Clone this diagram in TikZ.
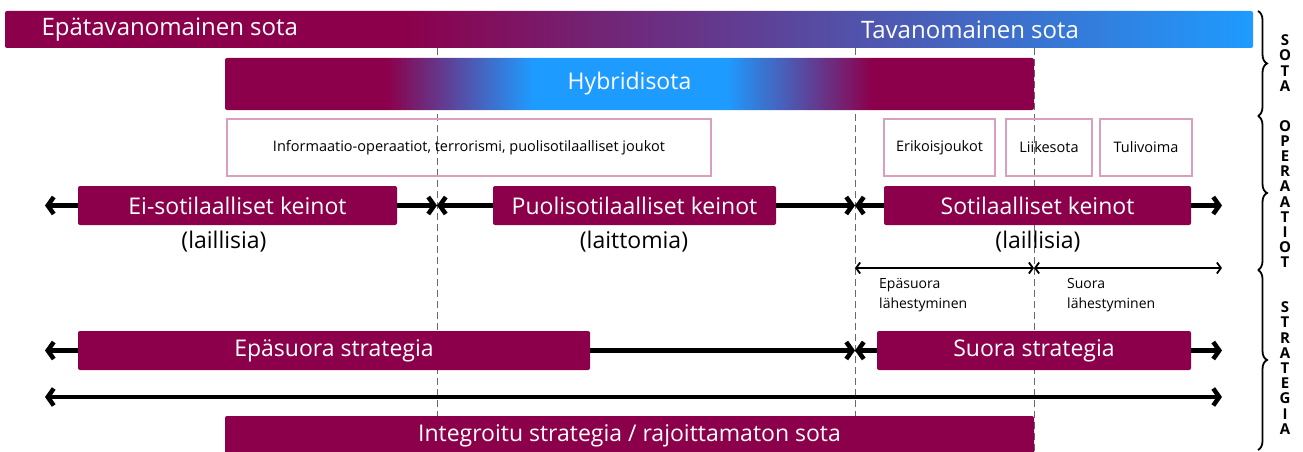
\documentclass[tikz,border=0pt]{standalone}
\usepackage{fontspec}
\setmainfont{Open Sans}
\usetikzlibrary{arrows.meta,decorations.pathreplacing}

\definecolor{crim}{RGB}{140,0,75}
\definecolor{sky}{RGB}{30,155,255}
\definecolor{pinkline}{RGB}{216,160,188}
\definecolor{dashgray}{RGB}{105,105,105}

\pgfdeclarehorizontalshading{sotagrad}{100bp}{color(0bp)=(crim); color(41bp)=(crim); color(75bp)=(sky); color(100bp)=(sky)}
\pgfdeclarehorizontalshading{hybridgrad}{100bp}{color(0bp)=(crim); color(35bp)=(crim); color(44bp)=(sky); color(56bp)=(sky); color(65bp)=(crim); color(100bp)=(crim)}

\tikzset{
	bar/.style={fill=crim, rounded corners=2pt, inner sep=0pt, text=white, font=\fontsize{23}{27}\selectfont},
	pinkbox/.style={draw=pinkline, line width=2pt, inner sep=0pt, font=\fontsize{14.5}{17}\selectfont},
	bigarrow/.style={line width=4.5pt, -{Straight Barb[length=6pt,width=17pt]}},
	thinarrow/.style={line width=1.8pt, {Straight Barb[length=4pt,width=11pt]}-{Straight Barb[length=4pt,width=11pt]}},
	divider/.style={dashgray, line width=1pt, dash pattern=on 7pt off 4pt},
	sidebrace/.style={decorate, decoration={brace,amplitude=9pt}, line width=1.8pt},
	sidelabel/.style={align=center, inner sep=0pt, font=\fontsize{15}{15.2}\selectfont\bfseries}
}

\begin{document}
\begin{tikzpicture}[x=1pt,y=-1pt]
	\useasboundingbox (0,0) rectangle (1303,452);

	\coordinate (v1t) at (437,48);
	\coordinate (v1b) at (437,416);
	\coordinate (v2t) at (855,48);
	\coordinate (v2b) at (855,416);
	\coordinate (v3t) at (1034,48);
	\coordinate (v3b) at (1034,452);
	\draw[divider] (v1t) -- (v1b);
	\draw[divider] (v2t) -- (v2b);
	\draw[divider] (v3t) -- (v3b);

	\node[shade, shading=sotagrad, rounded corners=2pt, minimum width=1248pt, minimum height=37pt] (sota) at (629,29.5) {};
	\node[text=white, font=\fontsize{24}{28}\selectfont, anchor=west] (epatxt) at (38,29.5) {Epätavanomainen sota};
	\node[text=white, font=\fontsize{24}{28}\selectfont] (tavtxt) at (970,29.5) {Tavanomainen sota};

	\node[shade, shading=hybridgrad, rounded corners=2pt, text=white, font=\fontsize{23}{27}\selectfont, minimum width=809pt, minimum height=52pt] (hybrid) at (629.5,84) {Hybridisota};

	\node[pinkbox, minimum width=484pt, minimum height=57pt] (info) at (469,147.5) {Informaatio-operaatiot, terrorismi, puolisotilaalliset joukot};
	\node[pinkbox, minimum width=111pt, minimum height=57pt] (eriko) at (939.5,147.5) {Erikoisjoukot};
	\node[pinkbox, minimum width=86pt, minimum height=57pt] (liike) at (1049,147.5) {Liikesota};
	\node[pinkbox, minimum width=92pt, minimum height=57pt] (tuli) at (1146,147.5) {Tulivoima};

	\node[bar, minimum width=319pt, minimum height=39pt] (eisot) at (237.5,205.5) {Ei-sotilaalliset keinot};
	\node[bar, minimum width=283pt, minimum height=39pt] (puoli) at (634.5,205.5) {Puolisotilaalliset keinot};
	\node[bar, minimum width=307pt, minimum height=39pt] (sot) at (1037.5,205.5) {Sotilaalliset keinot};

	\node[font=\fontsize{23}{27}\selectfont] (laill1) at (224,242) {(laillisia)};
	\node[font=\fontsize{23}{27}\selectfont] (laitt) at (634,242) {(laittomia)};
	\node[font=\fontsize{23}{27}\selectfont] (laill2) at (1038,242) {(laillisia)};

	\coordinate (k0) at (45,205.5);
	\coordinate (k1) at (437,205.5);
	\coordinate (k2) at (855,205.5);
	\coordinate (k3) at (1222,205.5);
	\draw[bigarrow] (eisot.west) -- (k0);
	\draw[bigarrow] (eisot.east) -- (k1);
	\draw[bigarrow] (puoli.west) -- (k1);
	\draw[bigarrow] (puoli.east) -- (k2);
	\draw[bigarrow] (sot.west) -- (k2);
	\draw[bigarrow] (sot.east) -- (k3);

	\coordinate (a1) at (855,268);
	\coordinate (a2) at (1034,268);
	\coordinate (a3) at (1222,268);
	\draw[thinarrow] (a1) -- (a2);
	\draw[thinarrow] (a2) -- (a3);
	\node[anchor=north west, align=left, inner sep=0pt, font=\fontsize{14}{20}\selectfont] (epalah) at (879,278) {Epäsuora\\lähestyminen};
	\node[anchor=north west, align=left, inner sep=0pt, font=\fontsize{14}{20}\selectfont] (suolah) at (1067,278) {Suora\\lähestyminen};

	\node[bar, minimum width=512pt, minimum height=39pt] (epastrat) at (334,350.5) {Epäsuora strategia};
	\node[bar, minimum width=314pt, minimum height=39pt] (suostrat) at (1034,350.5) {Suora strategia};
	\coordinate (s0) at (45,350.5);
	\coordinate (s1) at (855,350.5);
	\coordinate (s2) at (1222,350.5);
	\draw[bigarrow] (epastrat.west) -- (s0);
	\draw[bigarrow] (epastrat.east) -- (s1);
	\draw[bigarrow] (suostrat.west) -- (s1);
	\draw[bigarrow] (suostrat.east) -- (s2);

	\coordinate (t0) at (45,397);
	\coordinate (t1) at (1222,397);
	\draw[bigarrow, {Straight Barb[length=6pt,width=17pt]}-{Straight Barb[length=6pt,width=17pt]}] (t0) -- (t1);

	\node[bar, minimum width=809pt, minimum height=40pt] (integ) at (629.5,436) {Integroitu strategia / rajoittamaton sota};

	\coordinate (b0) at (1258,11);
	\coordinate (b1) at (1258,116);
	\coordinate (b2) at (1258,270);
	\coordinate (b3) at (1258,450);
	\draw[sidebrace] (b0) -- (b1);
	\draw[sidebrace] (b1) -- (b2);
	\draw[sidebrace] (b2) -- (b3);
	\node[sidelabel] (sotalbl) at (1285,63) {S\\O\\T\\A};
	\node[sidelabel] (oplbl) at (1285,194) {O\\P\\E\\R\\A\\A\\T\\I\\O\\T};
	\node[sidelabel] (strlbl) at (1285,368) {S\\T\\R\\A\\T\\E\\G\\I\\A};
\end{tikzpicture}
\end{document}
